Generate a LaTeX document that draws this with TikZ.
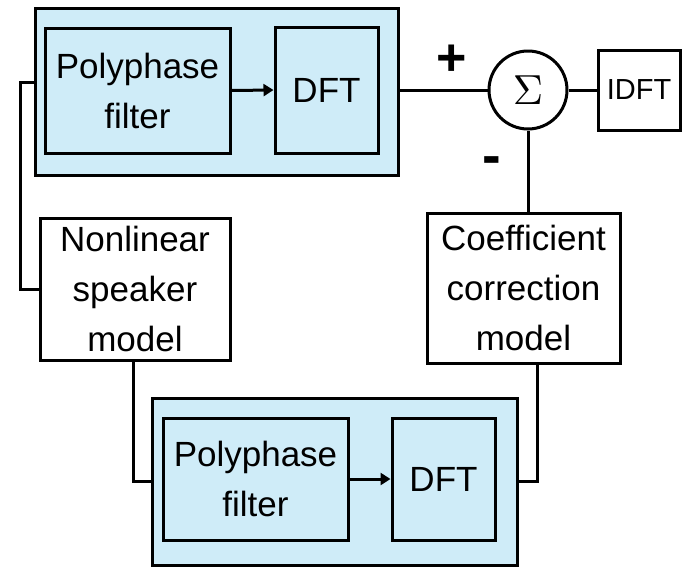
\documentclass[tikz,border=0pt]{standalone}
\usepackage{fontspec}
\setmainfont{Liberation Sans}
\usetikzlibrary{arrows.meta,calc,positioning}
\definecolor{bankblue}{RGB}{207,236,248}
\tikzset{
	blk/.style={draw,line width=3pt,align=center,inner sep=0pt,
		font=\fontsize{35}{50}\selectfont},
	bank/.style={blk,fill=bankblue},
	wire/.style={line width=3pt},
	ar/.style={wire,-{Triangle[length=10pt,width=12pt]}}
}
\begin{document}
\begin{tikzpicture}[x=1pt,y=-1pt]
	\useasboundingbox (0,0) rectangle (698,579);
	% upper analysis bank
	\node[bank,minimum width=363,minimum height=167] (B1) at (216.5,91.5) {};
	\node[bank,minimum width=185,minimum height=125] (P1) at (137.5,90.5) {Polyphase\\filter};
	\node[bank,minimum width=103,minimum height=126] (D1) at (326.5,90) {DFT};
	% lower analysis bank
	\node[bank,minimum width=365,minimum height=167] (B2) at (334.5,481.5) {};
	\node[bank,minimum width=185,minimum height=122] (P2) at (255.5,479) {Polyphase\\filter};
	\node[bank,minimum width=103,minimum height=122] (D2) at (443.5,479) {DFT};
	% models
	\node[blk,minimum width=190,minimum height=142] (N) at (135,289) {Nonlinear\\speaker\\model};
	\node[blk,minimum width=193,minimum height=150] (C) at (523.5,288) {Coefficient\\correction\\model};
	% summation and output
	\node[draw,circle,line width=3pt,minimum size=78,inner sep=0pt] (S) at (528,90) {\scalebox{4.2}{$\Sigma$}};
	\node[blk,minimum width=82,minimum height=80,font=\fontsize{29}{30}\selectfont] (I) at (639,90) {IDFT};
	\node[font=\fontsize{52}{52}\selectfont\bfseries] at (452,60) {+};
	\node[font=\fontsize{56}{56}\selectfont\bfseries] at (492,166) {-};
	\draw[ar] (P1.east) -- (D1.west);
	\draw[ar] (P2.east) -- (D2.west);
	\draw[wire] (B1.east |- S) -- (S.west);
	\draw[wire] (S.east) -- (I.west);
	\draw[wire] (S.south) -- (C.north -| S.south);
	\draw[wire] (B1.west |- 0,82) -- (20,82) |- (N.west);
	\draw[wire] (133,0 |- N.south) |- (B2.west);
	\draw[wire] (B2.east) -| (537,0 |- C.south);
\end{tikzpicture}
\end{document}
